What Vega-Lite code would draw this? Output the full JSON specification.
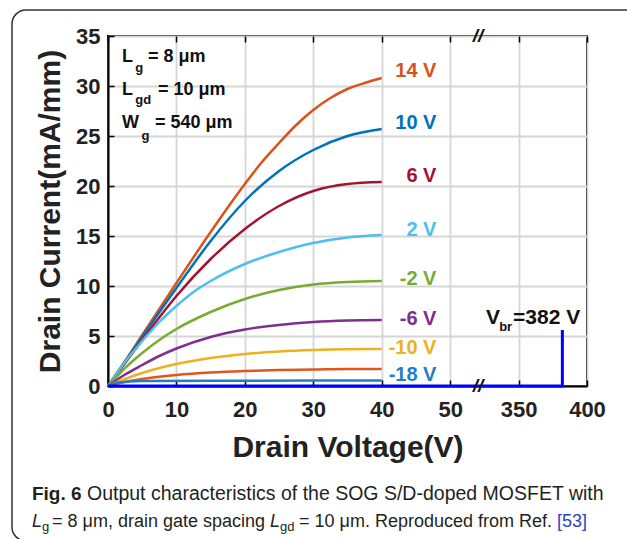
{
  "$schema": "https://vega.github.io/schema/vega-lite/v6.json",
  "width": 479,
  "height": 350,
  "autosize": {"type": "none"},
  "padding": {"left": 108, "top": 36, "right": 40, "bottom": 153},
  "background": "white",
  "config": {
    "view": {"stroke": "#000", "strokeWidth": 2},
    "font": "Liberation Sans",
    "axis": {
      "labelFont": "Liberation Sans", "labelFontWeight": "bold", "labelFontSize": 22, "labelColor": "#222",
      "titleFont": "Liberation Sans", "titleFontWeight": "bold", "titleFontSize": 30, "titleColor": "#222",
      "domainColor": "#000", "domainWidth": 2, "tickColor": "#000", "tickWidth": 1.5,
      "gridColor": "#d6d6d6", "gridWidth": 1.8
    }
  },
  "resolve": {"axis": {"x": "independent", "y": "independent"}},
  "datasets": {
    "curves": [
      {"series":"14 V","vd":0,"id":0},{"series":"14 V","vd":2.5,"id":2.5},{"series":"14 V","vd":5,"id":5.1},{"series":"14 V","vd":10,"id":10.3},{"series":"14 V","vd":15,"id":15.4},{"series":"14 V","vd":20,"id":20.2},{"series":"14 V","vd":22.5,"id":22.4},{"series":"14 V","vd":25,"id":24.3},{"series":"14 V","vd":27.5,"id":26.1},{"series":"14 V","vd":30,"id":27.6},{"series":"14 V","vd":32.5,"id":28.8},{"series":"14 V","vd":35,"id":29.7},{"series":"14 V","vd":37.5,"id":30.3},{"series":"14 V","vd":40,"id":30.8},
      {"series":"10 V","vd":0,"id":0},{"series":"10 V","vd":2.5,"id":2.4},{"series":"10 V","vd":5,"id":4.9},{"series":"10 V","vd":10,"id":9.8},{"series":"10 V","vd":15,"id":14.5},{"series":"10 V","vd":20,"id":18.5},{"series":"10 V","vd":25,"id":21.5},{"series":"10 V","vd":30,"id":23.6},{"series":"10 V","vd":35,"id":25.0},{"series":"10 V","vd":40,"id":25.7},
      {"series":"6 V","vd":0,"id":0},{"series":"6 V","vd":2.5,"id":2.3},{"series":"6 V","vd":5,"id":4.6},{"series":"6 V","vd":10,"id":9.0},{"series":"6 V","vd":15,"id":12.7},{"series":"6 V","vd":20,"id":15.7},{"series":"6 V","vd":25,"id":18.0},{"series":"6 V","vd":30,"id":19.5},{"series":"6 V","vd":35,"id":20.2},{"series":"6 V","vd":40,"id":20.4},
      {"series":"2 V","vd":0,"id":0},{"series":"2 V","vd":2.5,"id":2.4},{"series":"2 V","vd":5,"id":4.5},{"series":"2 V","vd":7.5,"id":6.4},{"series":"2 V","vd":10,"id":8.0},{"series":"2 V","vd":12.5,"id":9.4},{"series":"2 V","vd":15,"id":10.5},{"series":"2 V","vd":20,"id":12.2},{"series":"2 V","vd":25,"id":13.4},{"series":"2 V","vd":30,"id":14.3},{"series":"2 V","vd":35,"id":14.85},{"series":"2 V","vd":40,"id":15.1},
      {"series":"-2 V","vd":0,"id":0},{"series":"-2 V","vd":2.5,"id":1.8},{"series":"-2 V","vd":5,"id":3.3},{"series":"-2 V","vd":7.5,"id":4.6},{"series":"-2 V","vd":10,"id":5.7},{"series":"-2 V","vd":15,"id":7.4},{"series":"-2 V","vd":20,"id":8.7},{"series":"-2 V","vd":25,"id":9.6},{"series":"-2 V","vd":30,"id":10.15},{"series":"-2 V","vd":35,"id":10.4},{"series":"-2 V","vd":40,"id":10.5},
      {"series":"-6 V","vd":0,"id":0},{"series":"-6 V","vd":2.5,"id":1.15},{"series":"-6 V","vd":5,"id":2.1},{"series":"-6 V","vd":7.5,"id":3.0},{"series":"-6 V","vd":10,"id":3.75},{"series":"-6 V","vd":15,"id":4.9},{"series":"-6 V","vd":20,"id":5.65},{"series":"-6 V","vd":25,"id":6.1},{"series":"-6 V","vd":30,"id":6.4},{"series":"-6 V","vd":35,"id":6.55},{"series":"-6 V","vd":40,"id":6.6},
      {"series":"-10 V","vd":0,"id":0},{"series":"-10 V","vd":2.5,"id":0.7},{"series":"-10 V","vd":5,"id":1.3},{"series":"-10 V","vd":7.5,"id":1.8},{"series":"-10 V","vd":10,"id":2.2},{"series":"-10 V","vd":15,"id":2.8},{"series":"-10 V","vd":20,"id":3.2},{"series":"-10 V","vd":25,"id":3.45},{"series":"-10 V","vd":30,"id":3.6},{"series":"-10 V","vd":35,"id":3.68},{"series":"-10 V","vd":40,"id":3.7},
      {"series":"-14 V","vd":0,"id":0},{"series":"-14 V","vd":2.5,"id":0.4},{"series":"-14 V","vd":5,"id":0.7},{"series":"-14 V","vd":10,"id":1.1},{"series":"-14 V","vd":15,"id":1.35},{"series":"-14 V","vd":20,"id":1.5},{"series":"-14 V","vd":25,"id":1.6},{"series":"-14 V","vd":30,"id":1.65},{"series":"-14 V","vd":35,"id":1.7},{"series":"-14 V","vd":40,"id":1.7},
      {"series":"-18 V","vd":0,"id":0},{"series":"-18 V","vd":1.5,"id":0.35},{"series":"-18 V","vd":3,"id":0.45},{"series":"-18 V","vd":5,"id":0.5},{"series":"-18 V","vd":20,"id":0.53},{"series":"-18 V","vd":40,"id":0.55}
    ],
    "vbr": [{"k":1,"vd":0,"id":0},{"k":2,"vd":382,"id":0},{"k":3,"vd":382,"id":5.6}],
    "labels": [
      {"series":"14 V","vd":48,"id":31.5},{"series":"10 V","vd":48,"id":26.35},{"series":"6 V","vd":48,"id":21.0},{"series":"2 V","vd":48,"id":15.6},
      {"series":"-2 V","vd":48,"id":10.75},{"series":"-6 V","vd":48,"id":6.75},{"series":"-10 V","vd":48,"id":3.85},{"series":"-18 V","vd":48,"id":1.15}
    ],
    "ann": [
      {"t":"L","vd":2.05,"id":32.4},{"t":"= 8 μm","vd":5.85,"id":32.4},
      {"t":"L","vd":2.05,"id":29.1},{"t":"= 10 μm","vd":7.31,"id":29.1},
      {"t":"W","vd":2.05,"id":25.8},{"t":"= 540 μm","vd":6.87,"id":25.8}
    ],
    "annsub": [
      {"t":"g","vd":4.0,"id":31.4},{"t":"gd","vd":4.0,"id":28.2},{"t":"g","vd":4.9,"id":24.6},{"t":"br","vd":265,"id":5.5}
    ],
    "vbrtxt": [{"t":"V","vd":207.2,"id":6.2},{"t":"=382 V","vd":325.6,"id":6.2}],
    "brk": [{"vd":172.1,"id":35},{"vd":172.1,"id":0}],
    "frame": [{"vd":-14.03,"vd2":438.7,"id":37.6,"id2":-15.5}],
    "capbold": [{"t":"Fig. 6","vd":-11.11,"id":-11.4}],
    "capnorm1": [{"t":"Output characteristics of the SOG S/D-doped MOSFET with","vd":-3.07,"id":-11.4}],
    "capnorm": [
      {"t":"= 8 μm, drain gate spacing","vd":-8.18,"id":-14.1},
      {"t":"= 10 μm. Reproduced from Ref.","vd":27.91,"id":-14.1}
    ],
    "capital": [{"t":"L","vd":-11.11,"id":-14.1},{"t":"L","vd":23.67,"id":-14.1}],
    "capsub": [{"t":"g","vd":-9.64,"id":-14.5},{"t":"gd","vd":25.14,"id":-14.5}],
    "capref": [{"t":"[53]","vd":378.1,"id":-14.1}]
  },
  "layer": [
    {
      "data": {"name": "curves"},
      "mark": {"type": "line", "strokeWidth": 2.5, "interpolate": "monotone"},
      "encoding": {
        "x": {
          "field": "vd", "type": "quantitative",
          "scale": {"domain": [0, 50, 350, 400], "range": [0, 342.14, 410.57, 479], "nice": false, "zero": false},
          "axis": {"values": [0, 10, 20, 30, 40, 50, 350, 400], "title": "Drain Voltage(V)", "grid": true, "tickSize": -6, "labelPadding": 19, "titlePadding": 12, "labelFlush": false, "labelOverlap": false}
        },
        "y": {
          "field": "id", "type": "quantitative",
          "scale": {"domain": [0, 35], "nice": false, "zero": false},
          "axis": {"values": [0, 5, 10, 15, 20, 25, 30, 35], "title": "Drain Current(mA/mm)", "grid": true, "tickSize": -6, "labelPadding": 14, "titlePadding": 10, "labelFlush": false, "labelOverlap": false}
        },
        "color": {
          "field": "series", "type": "nominal", "legend": null,
          "scale": {
            "domain": ["14 V", "10 V", "6 V", "2 V", "-2 V", "-6 V", "-10 V", "-14 V", "-18 V"],
            "range": ["#D95319", "#0072BD", "#A2142F", "#4DBEEE", "#77AC30", "#7E2F8E", "#EDB120", "#E0561C", "#1F7FC6"]
          }
        },
        "detail": {"field": "series"}
      }
    },
    {
      "data": {"name": "frame"},
      "mark": {"type": "rect", "fill": "transparent", "stroke": "#333", "strokeWidth": 1.5, "cornerRadius": 14},
      "encoding": {
        "x": {"field": "vd", "type": "quantitative", "axis": null},
        "x2": {"field": "vd2"},
        "y": {"field": "id", "type": "quantitative", "axis": null},
        "y2": {"field": "id2"}
      }
    },
    {
      "data": {"name": "vbr"},
      "mark": {"type": "line", "color": "#0000FF", "strokeWidth": 3},
      "encoding": {
        "x": {"field": "vd", "type": "quantitative", "axis": null},
        "y": {"field": "id", "type": "quantitative", "axis": null},
        "order": {"field": "k", "type": "quantitative"}
      }
    },
    {
      "data": {"name": "labels"},
      "mark": {"type": "text", "align": "right", "baseline": "middle", "fontSize": 20, "fontWeight": "bold", "font": "Liberation Sans"},
      "encoding": {
        "x": {"field": "vd", "type": "quantitative", "axis": null},
        "y": {"field": "id", "type": "quantitative", "axis": null},
        "text": {"field": "series"},
        "color": {"field": "series", "type": "nominal", "legend": null}
      }
    },
    {
      "data": {"name": "ann"},
      "mark": {"type": "text", "align": "left", "baseline": "alphabetic", "fontSize": 18, "fontWeight": "bold", "font": "Liberation Sans", "color": "#111"},
      "encoding": {
        "x": {"field": "vd", "type": "quantitative", "axis": null},
        "y": {"field": "id", "type": "quantitative", "axis": null},
        "text": {"field": "t"}
      }
    },
    {
      "data": {"name": "annsub"},
      "mark": {"type": "text", "align": "left", "baseline": "alphabetic", "fontSize": 13, "fontWeight": "bold", "font": "Liberation Sans", "color": "#111"},
      "encoding": {
        "x": {"field": "vd", "type": "quantitative", "axis": null},
        "y": {"field": "id", "type": "quantitative", "axis": null},
        "text": {"field": "t"}
      }
    },
    {
      "data": {"name": "vbrtxt"},
      "mark": {"type": "text", "align": "left", "baseline": "alphabetic", "fontSize": 21, "fontWeight": "bold", "font": "Liberation Sans", "color": "#111"},
      "encoding": {
        "x": {"field": "vd", "type": "quantitative", "axis": null},
        "y": {"field": "id", "type": "quantitative", "axis": null},
        "text": {"field": "t"}
      }
    },
    {
      "data": {"name": "brk"},
      "mark": {"type": "text", "align": "center", "baseline": "middle", "fontSize": 19, "fontWeight": "bold", "fontStyle": "italic", "font": "Liberation Sans", "color": "#111"},
      "encoding": {
        "x": {"field": "vd", "type": "quantitative", "axis": {"orient": "top", "values": [0, 10, 20, 30, 40, 50, 350, 400], "labels": false, "title": null, "grid": false, "tickSize": -6, "domain": false}},
        "y": {"field": "id", "type": "quantitative", "axis": null},
        "text": {"value": "//"}
      }
    },
    {
      "data": {"name": "capbold"},
      "mark": {"type": "text", "align": "left", "baseline": "alphabetic", "fontSize": 19, "fontWeight": "bold", "font": "Liberation Sans", "color": "#231F20"},
      "encoding": {
        "x": {"field": "vd", "type": "quantitative", "axis": null},
        "y": {"field": "id", "type": "quantitative", "axis": null},
        "text": {"field": "t"}
      }
    },
    {
      "data": {"name": "capnorm1"},
      "mark": {"type": "text", "align": "left", "baseline": "alphabetic", "fontSize": 19.5, "font": "Liberation Sans", "color": "#231F20"},
      "encoding": {
        "x": {"field": "vd", "type": "quantitative", "axis": null},
        "y": {"field": "id", "type": "quantitative", "axis": null},
        "text": {"field": "t"}
      }
    },
    {
      "data": {"name": "capnorm"},
      "mark": {"type": "text", "align": "left", "baseline": "alphabetic", "fontSize": 18, "font": "Liberation Sans", "color": "#231F20"},
      "encoding": {
        "x": {"field": "vd", "type": "quantitative", "axis": null},
        "y": {"field": "id", "type": "quantitative", "axis": null},
        "text": {"field": "t"}
      }
    },
    {
      "data": {"name": "capital"},
      "mark": {"type": "text", "align": "left", "baseline": "alphabetic", "fontSize": 18, "fontStyle": "italic", "font": "Liberation Sans", "color": "#231F20"},
      "encoding": {
        "x": {"field": "vd", "type": "quantitative", "axis": null},
        "y": {"field": "id", "type": "quantitative", "axis": null},
        "text": {"field": "t"}
      }
    },
    {
      "data": {"name": "capsub"},
      "mark": {"type": "text", "align": "left", "baseline": "alphabetic", "fontSize": 13, "font": "Liberation Sans", "color": "#231F20"},
      "encoding": {
        "x": {"field": "vd", "type": "quantitative", "axis": null},
        "y": {"field": "id", "type": "quantitative", "axis": null},
        "text": {"field": "t"}
      }
    },
    {
      "data": {"name": "capref"},
      "mark": {"type": "text", "align": "left", "baseline": "alphabetic", "fontSize": 18, "font": "Liberation Sans", "color": "#2B3FC8"},
      "encoding": {
        "x": {"field": "vd", "type": "quantitative", "axis": null},
        "y": {"field": "id", "type": "quantitative", "axis": null},
        "text": {"field": "t"}
      }
    }
  ]
}
